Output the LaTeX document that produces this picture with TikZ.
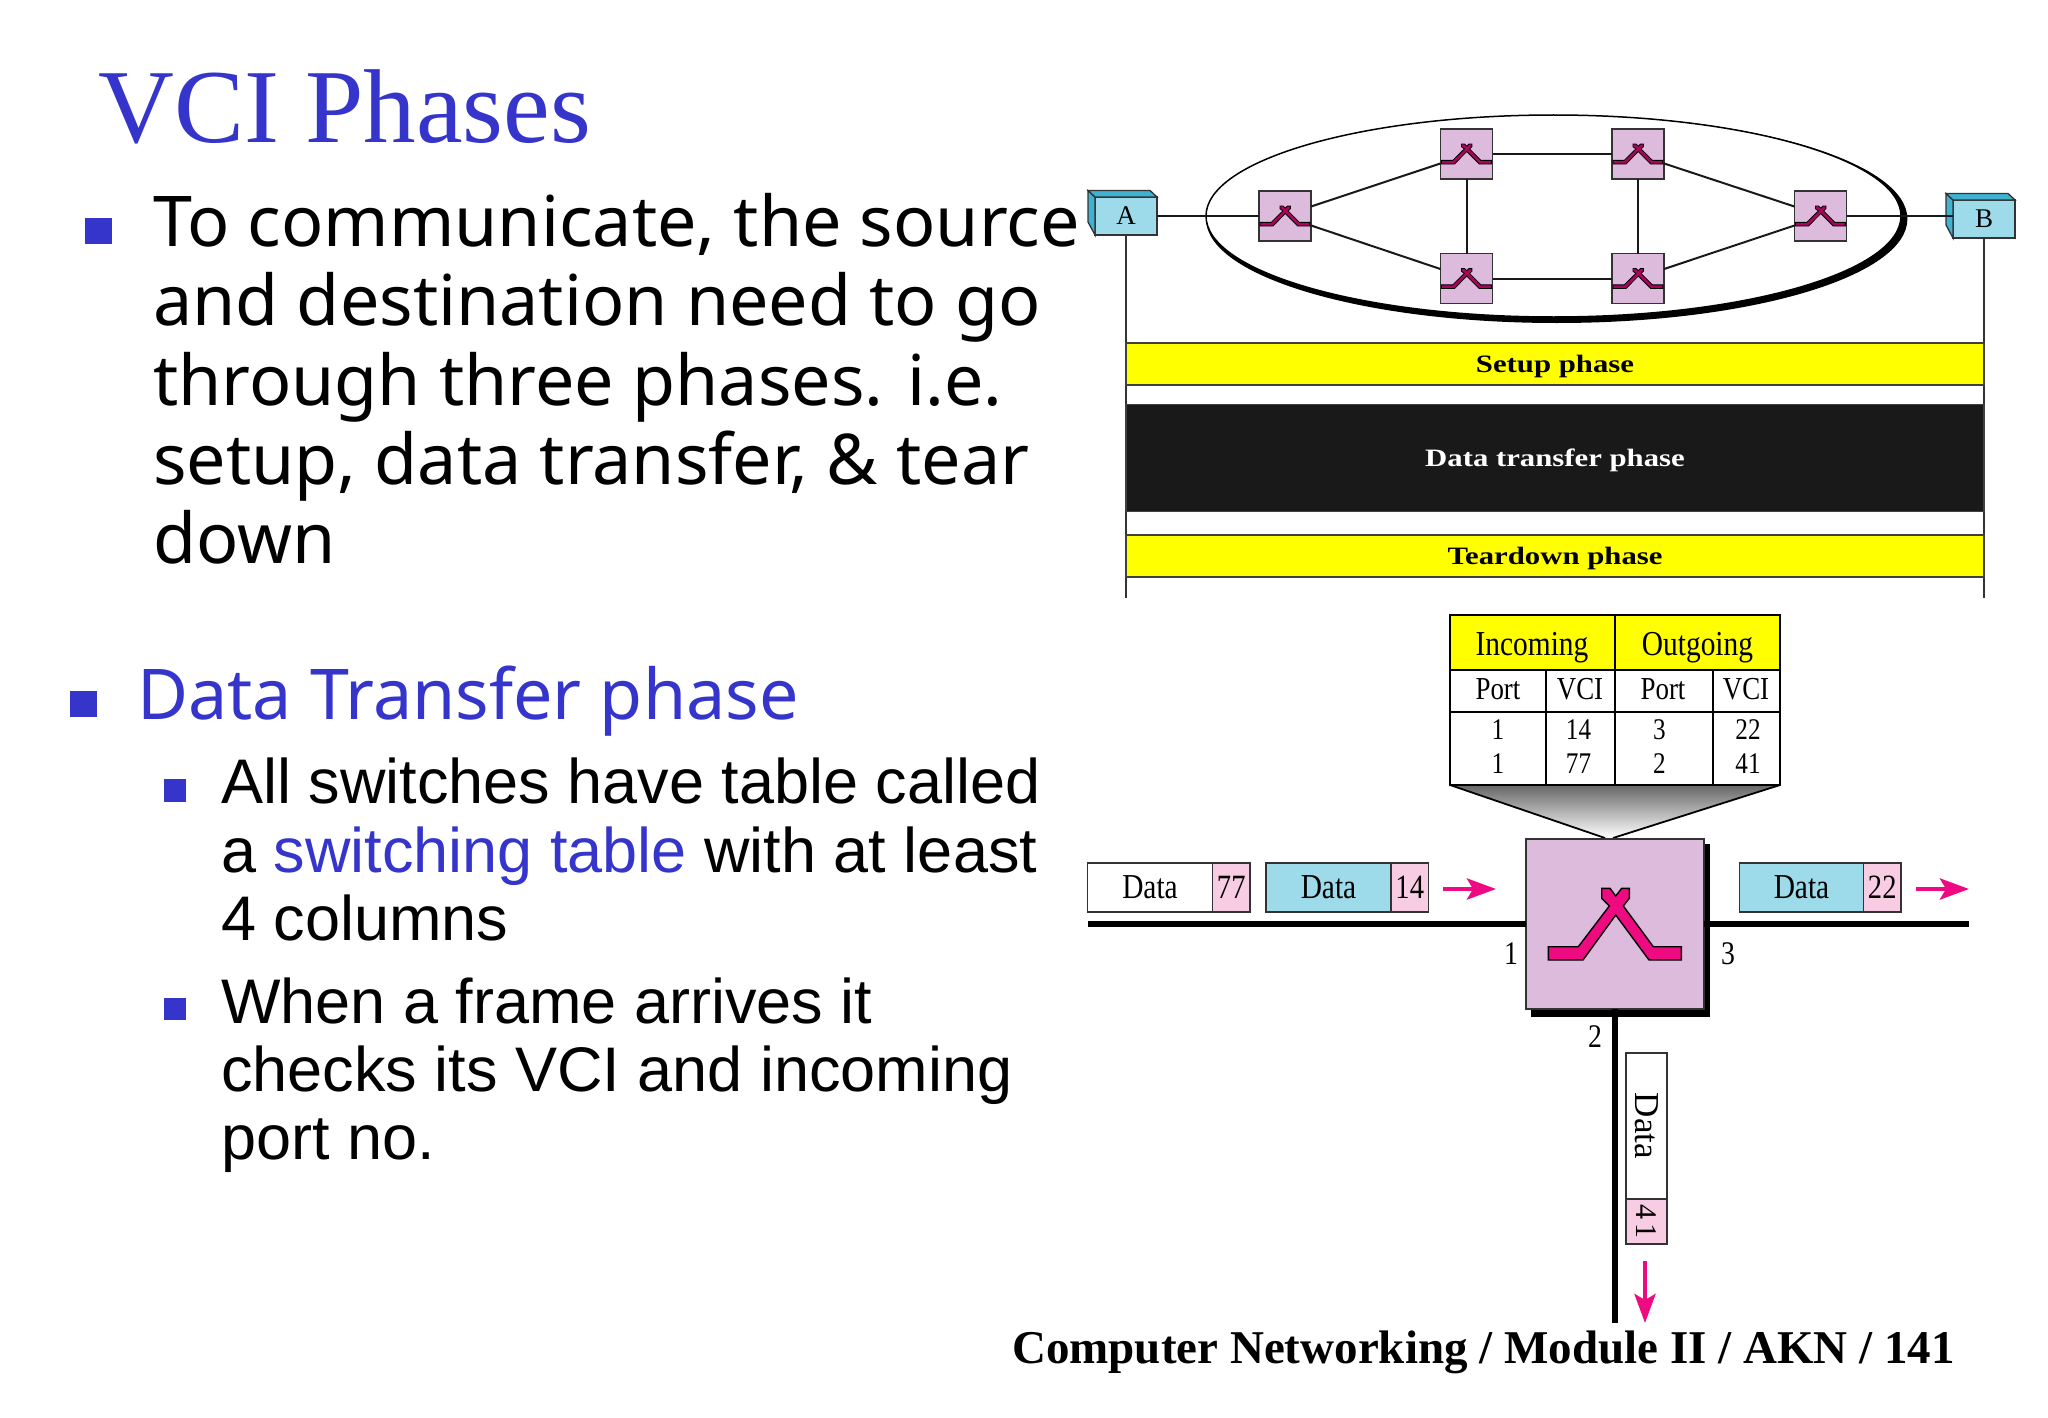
\documentclass[tikz,border=0pt]{standalone}
\usepackage{fontspec}
\usetikzlibrary{positioning,arrows.meta}
\setmainfont{Liberation Serif}
\newfontfamily\bodyfont{Noto Sans}
\newfontfamily\subfont{Liberation Sans}
\newfontfamily\narrowfont[FakeStretch=0.84]{Liberation Serif}
\newfontfamily\widefont[FakeStretch=1.23]{Liberation Serif}
\newcommand{\fs}[1]{\fontsize{#1}{#1}\selectfont}
\definecolor{slideblue}{HTML}{3535CC}
\definecolor{swpurple}{HTML}{DDBBDD}
\definecolor{hostblue}{HTML}{9EDBEA}
\definecolor{hostdark}{HTML}{3FB2D2}
\definecolor{tagpink}{HTML}{F8CCE2}
\definecolor{hotpink}{HTML}{EE0A80}
\definecolor{barfill}{HTML}{FFFF00}
\colorlet{xbarfill}{hotpink}
\tikzset{
  txt/.style={anchor=base west,inner sep=0pt},
  body/.style={txt,font=\bodyfont\fs{70}},
  sub/.style={txt,font=\subfont\fs{63}},
  bullet/.style={fill=slideblue},
  phasebar/.style={draw=black!75,line width=1.2pt,minimum width=858pt,inner sep=0pt,text height=20pt,text depth=3pt,font=\widefont\bfseries\fs{25}},
  smallsw/.style={draw=black!80,line width=1.3pt,fill=swpurple,minimum width=52pt,minimum height=50pt,inner sep=0pt,outer sep=0pt},
  host/.style={draw=black!80,line width=1.3pt,fill=hostblue,minimum width=62pt,minimum height=38pt,inner sep=0pt,outer sep=0pt,font=\fs{27}},
  link/.style={line width=2pt,black!90},
  cellhead/.style={anchor=base,inner sep=0pt,font=\narrowfont\fs{35}},
  cellsub/.style={anchor=base,inner sep=0pt,font=\narrowfont\fs{32}},
  cellnum/.style={anchor=base,inner sep=0pt,font=\narrowfont\fs{30}},
  pktdata/.style={draw=black!80,line width=1.4pt,minimum height=49pt,inner sep=0pt,outer sep=0pt,font=\narrowfont\fs{35}},
  pkttag/.style={draw=black!80,line width=1.4pt,fill=tagpink,minimum width=37.5pt,minimum height=49pt,inner sep=0pt,outer sep=0pt,font=\narrowfont\fs{34}},
  flow/.style={hotpink,line width=4.5pt,-{Stealth[length=29pt,width=21pt,inset=6pt]}},
  trunk/.style={line width=6pt,black},
  pics/xbar/.style={code={
    \draw[fill=xbarfill,line width=#1] (-66.7,22.7) -- (-36.7,22.7) -- (-5.7,-18) -- (-13.3,-25.7) -- (-13.3,-35.7) -- (-5,-35.7) -- (.7,-28) -- (6.7,-35.7) -- (14.3,-35.7) -- (14.3,-25.7) -- (8.3,-18) -- (38.3,22.7) -- (66.3,22.7) -- (66.3,36) -- (34,36) -- (.7,-9) -- (-32,36) -- (-66.7,36) -- cycle;
  }}
}
\begin{document}
\begin{tikzpicture}[x=1pt,y=-1pt]
\useasboundingbox (0,0) rectangle (2048,1418);
% left column
\node[txt,font=\fs{105},text=slideblue] (title) at (98,142.5) {VCI Phases};
\fill[bullet] (85,217.5) rectangle (112,243.5);
\node[body] (l1) at (153,246) {To communicate, the source};
\node[body] (l2) at (153,325.5) {and destination need to go};
\node[body] (l3) at (153,405) {through three phases. i.e.};
\node[body] (l4) at (153,484.5) {setup, data transfer, \& tear};
\node[body] (l5) at (153,563) {down};
\fill[bullet] (70,691) rectangle (96.5,717);
\node[body,text=slideblue] (dt) at (137,719) {Data Transfer phase};
\fill[bullet] (164,779) rectangle (186,801.5);
\node[sub] (s1) at (221,803.5) {All switches have table called};
\node[sub] (s2) at (221,872) {a \textcolor{slideblue}{switching table} with at least};
\node[sub] (s3) at (221,940) {4 columns};
\fill[bullet] (164,998) rectangle (186,1020);
\node[sub] (s4) at (221,1023) {When a frame arrives it};
\node[sub] (s5) at (221,1091) {checks its VCI and incoming};
\node[sub] (s6) at (221,1159) {port no.};
% network
\fill (1556.7,219) ellipse [x radius=350.7,y radius=104];
\draw[line width=1.5pt,fill=white] (1553.5,216) ellipse [x radius=347.5,y radius=101];
\node[smallsw] (swL) at (1285,216) {};
\node[smallsw] (swTL) at (1466.5,154) {};
\node[smallsw] (swTR) at (1638,154) {};
\node[smallsw] (swBL) at (1466.5,278.5) {};
\node[smallsw] (swBR) at (1638,278.5) {};
\node[smallsw] (swR) at (1820.5,216) {};
\foreach \sw in {swL,swTL,swTR,swBL,swBR,swR} {
  \colorlet{xbarfill}{hotpink!70!black}
  \pic[xscale=.375,yscale=.28] at (\sw) {xbar=.8pt};
}
\node[host] (hostA) at (1126,216) {A};
\node[host] (hostB) at (1984,219) {B};
\foreach \h in {hostA,hostB} {
  \draw[line width=1.3pt,black!80,fill=hostdark] (\h.north west) -- ++(-7,-6.5) -- ++(0,31.5) -- (\h.south west) -- cycle;
  \draw[line width=1.3pt,black!80,fill=hostdark] (\h.north west) -- ++(-7,-6.5) -- ++(62,0) -- (\h.north east) -- cycle;
}
\draw[link] (hostA) -- (swL);
\draw[link] (swL.20) -- (swTL.200);
\draw[link] (swL.-20) -- (swBL.160);
\draw[link] (swTL) -- (swTR);
\draw[link] (swBL) -- (swBR);
\draw[link] (swTL) -- (swBL);
\draw[link] (swTR) -- (swBR);
\draw[link] (swTR.-20) -- (swR.160);
\draw[link] (swBR.20) -- (swR.200);
\draw[link] (swR.east) -- (hostB.west |- swR.east);
% phases
\coordinate (endA) at (1126,598);
\coordinate (endB) at (1984,598);
\draw[line width=1.3pt,black!80] (hostA.south) -- (endA);
\draw[line width=1.3pt,black!80] (hostB.south) -- (endB);
\node[phasebar,fill=barfill,minimum height=42pt] (setup) at (1555,364) {Setup phase};
\node[phasebar,fill=black!90,text=white,minimum height=107pt] (xfer) at (1555,458) {Data transfer phase};
\node[phasebar,fill=barfill,minimum height=42pt] (down) at (1555,556) {Teardown phase};
% table
\fill[barfill] (1450,615) rectangle (1780,670);
\shade[top color=black!60,bottom color=white] (1450,785) -- (1780,785) -- (1613,838) -- (1605,838) -- cycle;
\draw[line width=1.8pt] (1605,838) -- (1450,785) -- (1450,615) -- (1780,615) -- (1780,785) -- (1613,838);
\draw[line width=1.8pt] (1450,785) -- (1780,785);
\draw[line width=1.6pt] (1450,670) -- (1780,670);
\draw[line width=1.6pt] (1450,712) -- (1780,712);
\draw[line width=1.4pt] (1615,615) -- (1615,785);
\draw[line width=1.4pt] (1546,670) -- (1546,785);
\draw[line width=1.4pt] (1713,670) -- (1713,785);
\node[cellhead] (inc) at (1532,655) {Incoming};
\node[cellhead] (out) at (1697.5,655) {Outgoing};
\node[cellsub] (p1) at (1498,699) {Port};
\node[cellsub] (v1) at (1580,699) {VCI};
\node[cellsub] (p2) at (1663,699) {Port};
\node[cellsub] (v2) at (1746,699) {VCI};
\node[cellnum] (a1) at (1498,739) {1};
\node[cellnum] (a2) at (1578.5,739) {14};
\node[cellnum] (a3) at (1659.5,739) {3};
\node[cellnum] (a4) at (1748,739) {22};
\node[cellnum] (b1) at (1498,773) {1};
\node[cellnum] (b2) at (1578.5,773) {77};
\node[cellnum] (b3) at (1659.5,773) {2};
\node[cellnum] (b4) at (1748,773) {41};
% big switch
\coordinate (trunkL) at (1087.5,924);
\coordinate (trunkR) at (1969,924);
\coordinate (trunkD) at (1615,1323);
\fill (1531,844) rectangle (1710,1017);
\node[smallsw,minimum width=178pt,minimum height=170pt,line width=1.8pt] (bigsw) at (1615,924) {};
\pic at (bigsw) {xbar=1.4pt};
\draw[trunk] (trunkL) -- (bigsw.west);
\draw[trunk] (bigsw.east) -- (trunkR);
\draw[trunk] (bigsw.south) -- (trunkD);
\node[anchor=center,inner sep=0pt,font=\narrowfont\fs{33}] (n1) at (1511,954) {1};
\node[anchor=center,inner sep=0pt,font=\narrowfont\fs{33}] (n3) at (1728,954) {3};
\node[anchor=center,inner sep=0pt,font=\narrowfont\fs{33}] (n2) at (1595,1037) {2};
% packets
\node[pktdata,minimum width=125pt,fill=white,anchor=west] (pk1) at (1087.5,887.5) {Data};
\node[pkttag,right=0pt of pk1] (tag1) {77};
\node[pktdata,minimum width=125pt,fill=hostblue,anchor=west] (pk2) at (1266,887.5) {Data};
\node[pkttag,right=0pt of pk2] (tag2) {14};
\node[pktdata,minimum width=124pt,fill=hostblue,anchor=west] (pk3) at (1739.5,887.5) {Data};
\node[pkttag,right=0pt of pk3] (tag3) {22};
\node[draw=black!80,line width=1.4pt,fill=white,minimum width=41pt,minimum height=146pt,inner sep=0pt,outer sep=0pt] (pk4) at (1646.5,1126) {};
\node[draw=black!80,line width=1.4pt,fill=tagpink,minimum width=41pt,minimum height=45pt,inner sep=0pt,outer sep=0pt,below=0pt of pk4] (tag4) {};
\node[rotate=-90,inner sep=0pt,font=\fs{35}] (pk4txt) at (pk4) {Data};
\node[rotate=-90,inner sep=0pt,font=\fs{30}] (tag4txt) at (tag4) {4\,1};
\coordinate (f1a) at (1443,889);
\coordinate (f1b) at (1496,889);
\coordinate (f2a) at (1916,889);
\coordinate (f2b) at (1969,889);
\coordinate (f3a) at (1645,1261);
\coordinate (f3b) at (1645,1323);
\draw[flow] (f1a) -- (f1b);
\draw[flow] (f2a) -- (f2b);
\draw[flow] (f3a) -- (f3b);
\node[txt,font=\bfseries\fs{47}] (foot) at (1012,1363) {Computer Networking / Module II / AKN / 141};
\end{tikzpicture}
\end{document}
